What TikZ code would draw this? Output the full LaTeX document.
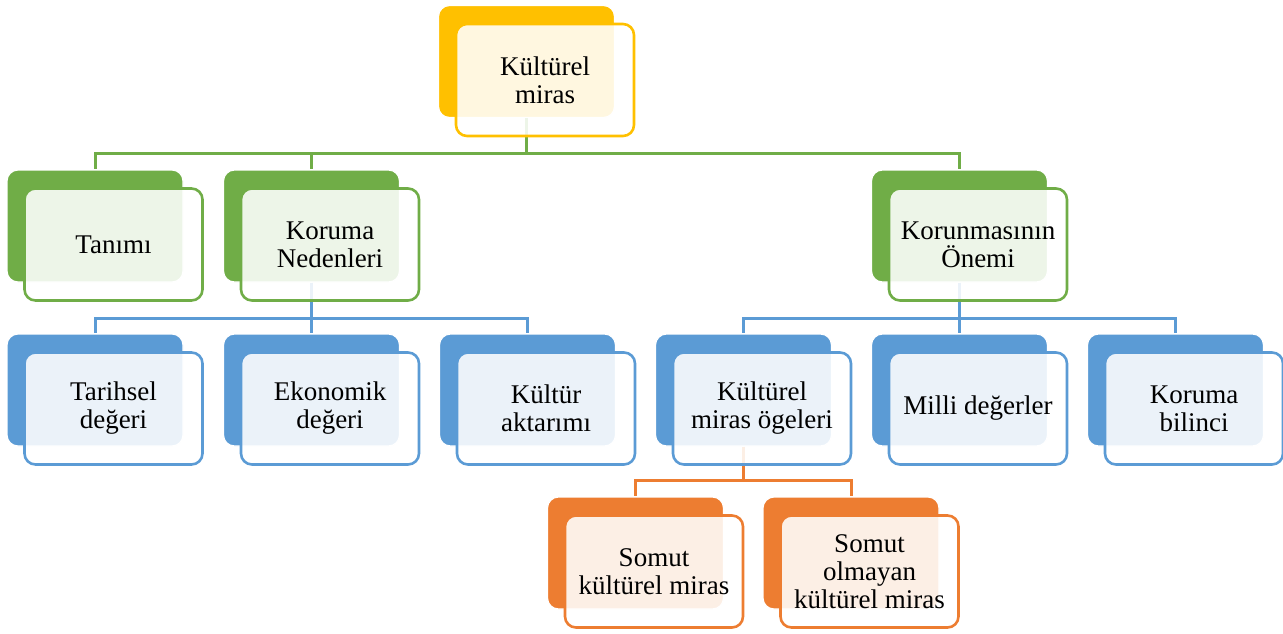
\documentclass[tikz,border=0pt]{standalone}
\usepackage{fontspec}
\setmainfont{Liberation Serif}
\definecolor{cgold}{HTML}{FFC000}
\definecolor{cgreen}{HTML}{70AD47}
\definecolor{cblue}{HTML}{5B9BD5}
\definecolor{corange}{HTML}{ED7D31}
\tikzset{
  backbox/.style={rectangle, rounded corners=11pt, minimum width=176pt, minimum height=112pt, inner sep=0pt, draw=white, line width=1.2pt},
  frontbox/.style={rectangle, rounded corners=11pt, minimum width=178pt, minimum height=112pt, inner sep=0pt, line width=2.6pt, fill=white, fill opacity=0.88, text opacity=1, align=center, font=\fontsize{27}{28}\selectfont},
  conn/.style={line width=3pt},
}
\newcommand\mkback[4]{\node[backbox, fill=#4] (#1-b) at (#2,#3) {};}
\newcommand\mkfront[3]{\node[frontbox, draw=#2] (#1) at ([xshift=18.5pt,yshift=-18.5pt]#1-b.center) {#3};}
\begin{document}
\begin{tikzpicture}[x=1pt,y=-1pt]
\useasboundingbox (0,0) rectangle (1283,633);
% back boxes
\mkback{top}{526.5}{61.5}{cgold}
\mkback{tan}{95}{226}{cgreen}
\mkback{kor}{311.5}{226}{cgreen}
\mkback{kon}{959.5}{226}{cgreen}
\mkback{tar}{95}{390}{cblue}
\mkback{eko}{311.5}{390}{cblue}
\mkback{akt}{527.5}{390}{cblue}
\mkback{oge}{743.5}{390}{cblue}
\mkback{mil}{959.5}{390}{cblue}
\mkback{bil}{1175.5}{390}{cblue}
\mkback{som}{635.5}{553}{corange}
\mkback{sol}{851}{553}{corange}
% bus coordinates
\coordinate (bus1) at (0,153);
\coordinate (bus2) at (0,318);
\coordinate (bus3) at (0,480);
% connectors
\draw[conn, cgreen] (top-b.south) -- (top-b.south |- bus1) -| (tan-b.north);
\draw[conn, cgreen] (top-b.south |- bus1) -| (kor-b.north);
\draw[conn, cgreen] (top-b.south |- bus1) -| (kon-b.north);
\draw[conn, cblue] (kor-b.south) -- (kor-b.south |- bus2) -| (tar-b.north);
\draw[conn, cblue] (kor-b.south |- bus2) -| (akt-b.north);
\draw[conn, cblue] (kor-b.south) -- (eko-b.north);
\draw[conn, cblue] (kon-b.south) -- (kon-b.south |- bus2) -| (oge-b.north);
\draw[conn, cblue] (kon-b.south |- bus2) -| (bil-b.north);
\draw[conn, cblue] (kon-b.south) -- (mil-b.north);
\draw[conn, corange] (oge-b.south) -- (oge-b.south |- bus3) -| (som-b.north);
\draw[conn, corange] (oge-b.south |- bus3) -| (sol-b.north);
% front boxes
\mkfront{top}{cgold}{Kültürel\\miras}
\mkfront{tan}{cgreen}{Tanımı}
\mkfront{kor}{cgreen}{Koruma\\Nedenleri}
\mkfront{kon}{cgreen}{Korunmasının\\Önemi}
\mkfront{tar}{cblue}{Tarihsel\\değeri}
\mkfront{eko}{cblue}{Ekonomik\\değeri}
\mkfront{akt}{cblue}{Kültür\\aktarımı}
\mkfront{oge}{cblue}{Kültürel\\miras ögeleri}
\mkfront{mil}{cblue}{Milli değerler}
\mkfront{bil}{cblue}{Koruma\\bilinci}
\mkfront{som}{corange}{Somut\\kültürel miras}
\mkfront{sol}{corange}{Somut\\olmayan\\kültürel miras}
\end{tikzpicture}
\end{document}
